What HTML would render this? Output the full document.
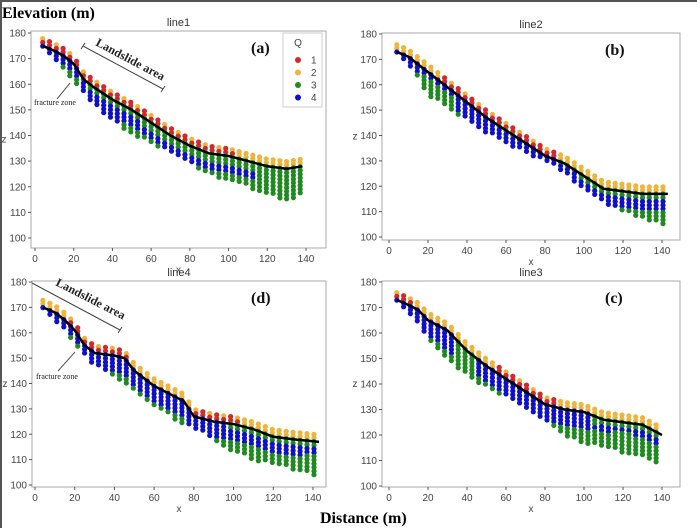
<!DOCTYPE html>
<html><head><meta charset="utf-8"><style>
html,body{margin:0;padding:0;background:#fff;}
svg{display:block;}
.tk{font-family:"Liberation Sans",sans-serif;font-size:10px;fill:#444;}
.ttl{font-family:"Liberation Sans",sans-serif;font-size:11px;fill:#333;}
.big{font-family:"Liberation Serif",serif;font-weight:bold;font-size:16px;fill:#000;}
.lab{font-family:"Liberation Serif",serif;font-weight:bold;font-size:16px;fill:#111;}
.ann{font-family:"Liberation Serif",serif;font-weight:bold;font-size:12px;fill:#222;}
.fz{font-family:"Liberation Serif",serif;font-size:8px;fill:#222;}
</style></head><body>
<svg id="chart" width="697" height="528" viewBox="0 0 697 528" xmlns="http://www.w3.org/2000/svg">
<rect x="0" y="0" width="697" height="528" fill="#fff"/>
<line x1="0" y1="1" x2="697" y2="1" stroke="#555" stroke-width="2"/>
<line x1="1" y1="0" x2="1" y2="528" stroke="#555" stroke-width="2"/>
<text x="2" y="18" class="big">Elevation (m)</text>
<text x="320" y="523" class="big">Distance (m)</text>
<g id="panels"></g>
</svg>
<script>
// ---- data: panel (a) line1 ----
const aX = [4,10,15,20,25,30,40,50,60,70,80,90,100,110,120,130,138];
const aSurf = [175,173,171,168,162,159,154,150,145,140,136,133,132,130,128,127,128];
const aBottom = [174,170,165,160,157,152,146,140,137,133,129,125,122,120,117,114,117];
const aBlueStart = [0,0,0,0,1,2,2,2,3,3,3,3,3,4,20,20,20];
const aBlueEnd = [4,4,4,4,8,9,9,6,6,7,7,7,6,6,0,0,0];
const aRed = [1,1,1,1,1,1,1,1,1,1,1,1,1,0,0,0,0];
// ---- data: panel (b) line2 ----
const bX = [4,10,15,20,30,40,50,60,70,80,90,100,110,120,130,143];
const bSurf = [173,171,168,165,159,153,147,142,137,132,129,124,119,118,117,117];
const bBottom = [172,167,162,156,151,146,141,137,133,130,125,119,113,110,107,104];
const bBlueStart = [0,0,0,0,0,0,0,1,0,0,1,3,3,3,3,3];
const bBlueEnd = [4,4,4,2,2,6,6,6,7,7,6,6,6,6,6,6];
const bRed = [0,0,0,0,1,1,1,1,1,1,0,0,0,0,0,0];
// ---- data: panel (c) line3 ----
const cX = [4,10,15,20,30,40,50,60,70,80,90,100,110,120,130,140];
const cSurf = [173,171,169,165,161,153,147,142,137,132,130,129,126,125,124,120];
const cBottom = [172,167,163,157,150,143,139,135,131,126,120,117,115,113,111,108];
const cBlueStart = [0,0,0,0,0,12,0,0,0,0,0,0,3,3,3,3];
const cBlueEnd = [6,6,6,6,8,0,6,6,6,6,6,6,5,4,5,5];
const cRed = [1,1,0,0,0,0,0,1,1,1,0,0,0,0,0,0];
// ---- data: panel (d) line4 ----
const dX = [4,10,15,20,25,30,40,45,50,60,70,75,80,90,100,110,120,130,143];
const dSurf = [170,168,165,161,155,152,151,150,145,139,135,133,127,125,124,122,119,118,117];
const dBottom = [169,165,161,155,151,147,142,140,137,131,126,124,122,118,113,110,108,106,103];
const dBlueStart = [0,0,0,0,0,0,0,0,0,0,0,0,0,0,2,2,2,2,2];
const dBlueEnd = [6,6,5,4,3,7,7,7,6,6,7,7,7,7,7,7,7,6,5];
const dRed = [0,0,0,1,1,1,1,1,0,0,0,0,1,1,1,0,0,0,0];
const yTicks = [100,110,120,130,140,150,160,170,180];
const xTicks = [0,20,40,60,80,100,120,140];
const legendLabels = ['1','2','3','4'];

const COL = {1:'#d62728',2:'#f0b43c',3:'#1f8a1f',4:'#1010c8'};
const NS='http://www.w3.org/2000/svg';
const root=document.getElementById('panels');
function mk(tag,attrs,parent){const e=document.createElementNS(NS,tag);for(const k in attrs)e.setAttribute(k,attrs[k]);(parent||root).appendChild(e);return e;}
function interp(xs,ys,x){if(x<=xs[0])return ys[0];for(let i=1;i<xs.length;i++){if(x<=xs[i]){const t=(x-xs[i-1])/(xs[i]-xs[i-1]);return ys[i-1]+t*(ys[i]-ys[i-1]);}}return ys[ys.length-1];}
function nearest(xs,ys,x){let b=0;for(let i=0;i<xs.length;i++){if(Math.abs(xs[i]-x)<Math.abs(xs[b]-x))b=i;}return ys[b];}

const panels=[
 {key:'a',title:'line1',X:aX,S:aSurf,B:aBottom,BS:aBlueStart,BE:aBlueEnd,R:aRed,box:[31,31,326,248],x0:35,x140:306,y180:33,y100:238},
 {key:'b',title:'line2',X:bX,S:bSurf,B:bBottom,BS:bBlueStart,BE:bBlueEnd,R:bRed,box:[382,33,680,240],x0:389,x140:662,y180:34,y100:237},
 {key:'c',title:'line3',X:cX,S:cSurf,B:cBottom,BS:cBlueStart,BE:cBlueEnd,R:cRed,box:[382,281,680,487],x0:389,x140:662,y180:282,y100:486},
 {key:'d',title:'line4',X:dX,S:dSurf,B:dBottom,BS:dBlueStart,BE:dBlueEnd,R:dRed,box:[32,281,326,487],x0:35,x140:313,y180:282,y100:485}
];
panels.forEach(p=>{
 const g=mk('g',{});
 
 
 const sx=v=>p.x0+(v/140)*(p.x140-p.x0);
 const sy=v=>p.y100-(v-100)/80*(p.y100-p.y180);
 const [bx0,by0,bx1,by1]=p.box;
 const fr=mk('rect',{x:bx0,y:by0,width:bx1-bx0,height:by1-by0,fill:'none',stroke:'#aaa','stroke-width':1},g);
 
 
 const t=mk('text',{x:(bx0+bx1)/2,y:by0-5,'text-anchor':'middle',class:'ttl'},g);t.textContent=p.title;
 
 
 yTicks.forEach(v=>{mk('line',{x1:bx0-3,x2:bx0,y1:sy(v),y2:sy(v),stroke:'#555'},g);
  const l=mk('text',{x:bx0-5,y:sy(v)+3.5,'text-anchor':'end',class:'tk'},g);l.textContent=v;
  
  });
 xTicks.forEach(v=>{mk('line',{x1:sx(v),x2:sx(v),y1:by1,y2:by1+3,stroke:'#555'},g);
  const l=mk('text',{x:sx(v),y:by1+14,'text-anchor':'middle',class:'tk'},g);l.textContent=v;
  
  });
 const xl=mk('text',{x:(bx0+bx1)/2,y:by1+25,'text-anchor':'middle',class:'tk','font-size':'8'},g);xl.textContent='x';
 
 
 const zl=mk('text',{x:bx0-27,y:(by0+by1)/2+3,'text-anchor':'middle',class:'tk','font-size':'8'},g);zl.textContent='z';
 
 
 const dg=mk('g',{},g);
 
 
 const xmax=p.X[p.X.length-1];
 let ci=0;
 for(let x=p.X[0];x<=xmax+0.01;x+=3.5,ci++){
  const s=interp(p.X,p.S,x),b=interp(p.X,p.B,x);
  const bs=nearest(p.X,p.BS,x),be=nearest(p.X,p.BE,x),rd=nearest(p.X,p.R,x);
  for(let z=s+2.8;z>=Math.min(b,s-0.5);z-=1.45){
   const d=s-z;let c;
   if(d<-2)c=(rd&&ci%2)?1:2;
   else if(d<-0.3)c=rd?1:2;
   else if(d>=bs&&d<be)c=4;else c=3;
   const dot=mk('circle',{cx:sx(x).toFixed(1),cy:sy(z).toFixed(1),r:2.6,fill:COL[c]},dg);
   
   
  }
 }
 const pts=p.X.map((x,i)=>sx(x).toFixed(1)+','+sy(p.S[i]).toFixed(1)).join(' ');
 const pl=mk('polyline',{points:pts,fill:'none',stroke:'#000','stroke-width':2.5,'stroke-linejoin':'round'},g);
 
 
 const lt=mk('text',{x:bx1-75,y:by0+22,class:'lab'},g);lt.textContent='('+p.key+')';
 
 
});
function ann(x1,y1,x2,y2,tx,ty,ang,name){
 const g=mk('g',{});
 
 
 mk('line',{x1:x1,y1:y1,x2:x2,y2:y2,stroke:'#444','stroke-width':1},g);
 const t=mk('text',{x:tx,y:ty,class:'ann',transform:`rotate(${ang} ${tx} ${ty})`},g);t.textContent='Landslide area';
}
ann(83,46,163,89,95,45,28,'landslide-annotation-a');
mk('line',{x1:81,y1:49,x2:85,y2:43,stroke:'#444'});mk('line',{x1:161,y1:92,x2:165,y2:86,stroke:'#444'});
ann(32,283,120,330,55,285,27,'landslide-annotation-d');
mk('line',{x1:118,y1:333,x2:122,y2:327,stroke:'#444'});
function frac(x,y,x1,y1,x2,y2,name){
 const g=mk('g',{});
 
 
 mk('line',{x1:x1,y1:y1,x2:x2,y2:y2,stroke:'#555'},g);
 const t=mk('text',{x:x,y:y,class:'fz'},g);t.textContent='fracture zone';
}
frac(34,105,57,99,70,83,'fracture-zone-a');
frac(36,379,58,371,75,352,'fracture-zone-d');
const lg=mk('g',{});


mk('rect',{x:283,y:33,width:39,height:74,fill:'#fff',stroke:'#ccc'},lg);
const q=mk('text',{x:298,y:46,'text-anchor':'middle',class:'tk','font-size':'9'},lg);q.textContent='Q';
legendLabels.forEach((l,i)=>{
 const e=mk('g',{},lg);
 
 
 mk('circle',{cx:298,cy:60+i*12.5,r:3,fill:COL[i+1]},e);
 const t=mk('text',{x:311,y:63.5+i*12.5,class:'tk','font-size':'10'},e);t.textContent=l;
});
</script>
</body></html>
